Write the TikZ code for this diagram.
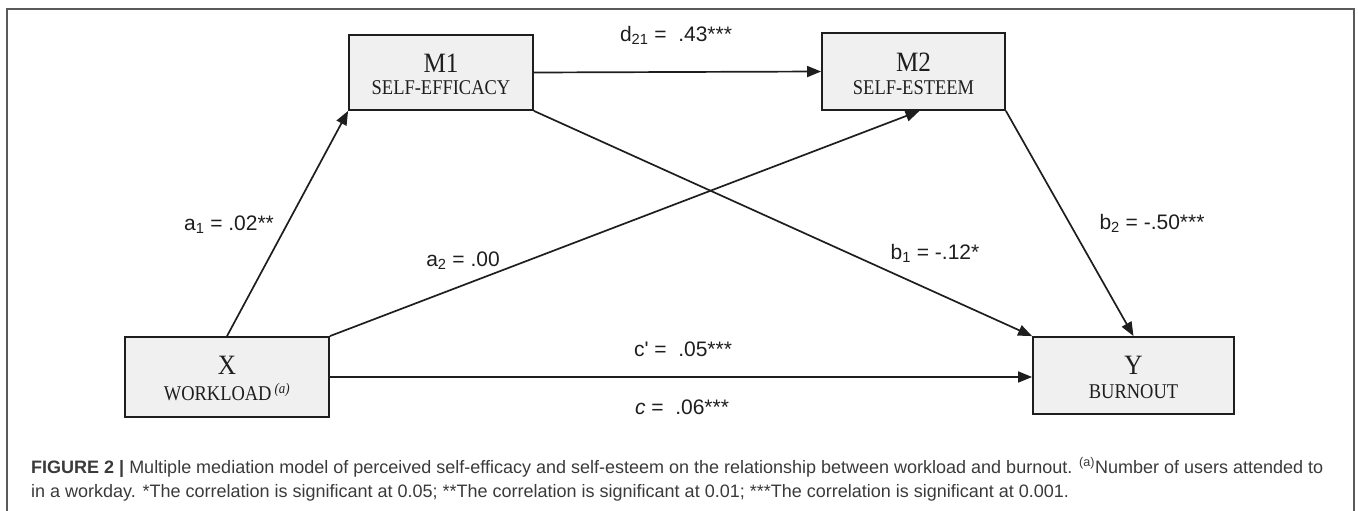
\documentclass[tikz,border=0pt]{standalone}
\usepackage{fontspec}
\setmainfont{Liberation Serif}
\newfontfamily\capfont{Liberation Sans}
\usetikzlibrary{arrows.meta}
\definecolor{boxfill}{HTML}{F0F0F0}
\definecolor{ink}{HTML}{1E1E1E}
\definecolor{framec}{HTML}{5A5A5A}
\definecolor{captxt}{HTML}{3A3A3A}
\begin{document}
\begin{tikzpicture}[x=1pt,y=-1pt,
  varbox/.style={draw=ink, line width=1.8pt, fill=boxfill, inner sep=0pt},
  conn/.style={draw=ink, line width=1.7pt, -{Triangle[length=14pt,width=11pt]}},
  bigtxt/.style={font=\fontsize{28}{28}\selectfont, text=ink, inner sep=0pt},
  smalltxt/.style={font=\fontsize{21}{21}\selectfont, text=ink, inner sep=0pt},
  coef/.style={font=\capfont\fontsize{21}{21}\selectfont, text=ink, inner sep=0pt},
  captext/.style={font=\capfont\fontsize{18}{18}\selectfont, text=captxt, inner sep=0pt, anchor=base west}
]
\useasboundingbox (0,0) rectangle (1358,511);
\draw[framec, line width=1.3pt] (7,530) -- (7,9) -- (1354,9) -- (1354,530);

% boxes
\node[varbox, minimum width=184pt, minimum height=75pt] (M1) at (441,72.5) {};
\node[varbox, minimum width=183pt, minimum height=77pt] (M2) at (913.5,71.5) {};
\node[varbox, minimum width=204pt, minimum height=80pt] (X) at (227,377) {};
\node[varbox, minimum width=201pt, minimum height=77pt] (Y) at (1133.5,375.5) {};

% box texts
\node[bigtxt] (m1t) at (441,63) {\scalebox{0.9}[1]{M1}};
\node[smalltxt] (m1s) at (441,88) {\scalebox{0.88}[1]{SELF-EFFICACY}};
\node[bigtxt] (m2t) at (913.5,62) {\scalebox{0.9}[1]{M2}};
\node[smalltxt] (m2s) at (913.5,88) {\scalebox{0.88}[1]{SELF-ESTEEM}};
\node[bigtxt] (xt) at (227,365) {\scalebox{0.9}[1]{X}};
\node[smalltxt] (xs) at (227,392) {\scalebox{0.88}[1]{WORKLOAD\,\textsuperscript{\itshape (a)}}};
\node[bigtxt] (yt) at (1133.5,365) {\scalebox{0.9}[1]{Y}};
\node[smalltxt] (ys) at (1133.5,392) {\scalebox{0.88}[1]{BURNOUT}};

% connectors
\draw[conn] (X.north) -- (M1.south west);
\draw[conn] (X.north east) -- ([xshift=6pt]M2.south);
\draw[conn] (M1.east) -- (M2.west);
\draw[conn] (M1.south east) -- (Y.north west);
\draw[conn] (M2.south east) -- (Y.north);
\draw[conn] (X.east) -- (X.east -| Y.west);

% coefficient labels
\node[coef] (ld) at (676,35) {d\textsubscript{21} = \ .43***};
\node[coef] (la1) at (229,225) {a\textsubscript{1} = .02**};
\node[coef] (la2) at (463,261) {a\textsubscript{2} = .00};
\node[coef] (lb1) at (935,253) {b\textsubscript{1} = -.12*};
\node[coef] (lb2) at (1152,223) {b\textsubscript{2} = -.50***};
\node[coef] (lcp) at (683,349) {c' = \ .05***};
\node[coef] (lc) at (682,407) {\textit{c} = \ .06***};

% caption
\node[captext] (cap1) at (31,473) {\textbf{FIGURE 2 |} Multiple mediation model of perceived self-efficacy and self-esteem on the relationship between workload and burnout. \textsuperscript{(a)}Number of users attended to};
\node[captext] (cap2) at (31,497) {in a workday. *The correlation is significant at 0.05; **The correlation is significant at 0.01; ***The correlation is significant at 0.001.};
\end{tikzpicture}
\end{document}
